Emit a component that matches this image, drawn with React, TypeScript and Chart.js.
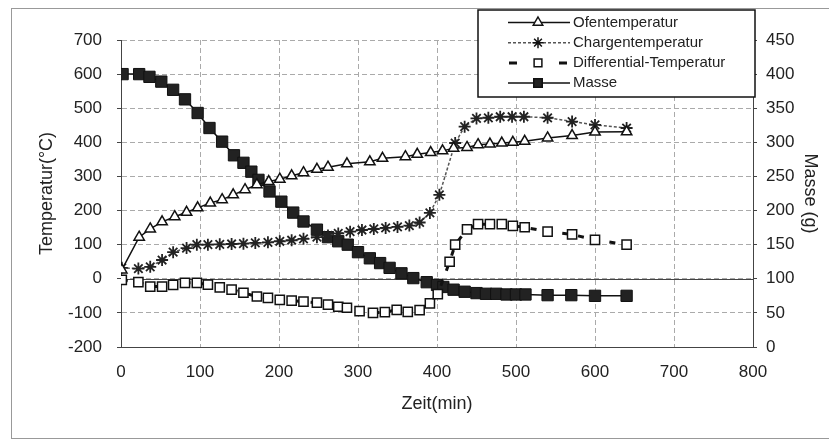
import React, { useEffect, useRef } from 'react';
import { Chart, registerables } from 'chart.js';

Chart.register(...registerables);

// ---- data ----
const seriesNames = ['Ofentemperatur', 'Chargentemperatur', 'Differential-Temperatur', 'Masse'];

const ofenTime = [1, 23, 37, 52, 68, 83, 97, 113, 128, 142, 157, 172, 187, 201, 216, 231, 248, 262, 286, 315, 331, 360, 375, 392, 407, 421, 438, 452, 467, 482, 496, 511, 540, 571, 600, 640];
const ofenTemp = [26, 122, 146, 167, 182, 195, 208, 222, 232, 246, 261, 276, 285, 292, 302, 311, 321, 327, 337, 343, 353, 358, 365, 370, 375, 383, 385, 393, 395, 398, 400, 403, 413, 420, 430, 431];

const chargeTime = [1, 22, 37, 52, 66, 83, 96, 110, 125, 140, 155, 170, 186, 201, 216, 231, 248, 262, 275, 290, 305, 320, 335, 350, 365, 378, 391, 403, 423, 435, 450, 465, 480, 495, 510, 540, 571, 600, 640];
const chargeTemp = [32, 30, 35, 55, 78, 90, 100, 100, 101, 102, 103, 105, 107, 110, 113, 117, 122, 127, 133, 138, 143, 146, 149, 152, 156, 165, 193, 246, 398, 446, 470, 472, 475, 475, 475, 472, 461, 451, 442];

const diffTime = [1, 22, 37, 52, 66, 81, 96, 110, 125, 140, 155, 172, 186, 201, 216, 231, 248, 262, 275, 286, 302, 319, 334, 349, 363, 378, 391, 401, 416, 423, 438, 452, 467, 482, 496, 511, 540, 571, 600, 640];
const diffTemp = [-3, -10, -23, -23, -18, -12, -12, -17, -25, -32, -41, -52, -56, -62, -64, -67, -70, -76, -82, -85, -95, -100, -98, -91, -97, -92, -72, -45, 50, 100, 145, 160, 160, 160, 155, 151, 138, 130, 114, 100];

const masseTime = [2, 23, 36, 51, 66, 81, 97, 112, 128, 143, 155, 165, 174, 188, 203, 218, 231, 248, 262, 275, 287, 300, 315, 328, 340, 355, 370, 387, 400, 408, 421, 435, 450, 462, 475, 488, 500, 512, 540, 570, 600, 640];
const masseVal = [400, 400, 396, 389, 377, 363, 343, 321, 301, 281, 270, 257, 245, 228, 213, 197, 184, 172, 161, 155, 150, 139, 130, 123, 116, 108, 101, 95, 91, 88, 84, 81, 79, 78, 78, 77, 77, 77, 76, 76, 75, 75];

const xTitle = 'Zeit(min)';
const yTitle = 'Temperatur(°C)';
const y1Title = 'Masse (g)';

const FONT = "'Liberation Sans', Arial, sans-serif";
const TEXT = '#222';

function pts(xs: number[], ys: number[]) {
  return xs.map((x, i) => ({ x, y: ys[i] }));
}

function drawMarker(ctx: CanvasRenderingContext2D, style: string, x: number, y: number, r: number, fill: string) {
  ctx.save();
  ctx.setLineDash([]);
  ctx.strokeStyle = '#111';
  ctx.lineWidth = 1.5;
  ctx.fillStyle = fill;
  ctx.beginPath();
  if (style === 'triangle') {
    ctx.moveTo(x, y - r);
    ctx.lineTo(x + r * Math.sin(Math.PI / 3), y + r * 0.5);
    ctx.lineTo(x - r * Math.sin(Math.PI / 3), y + r * 0.5);
    ctx.closePath();
    ctx.fill();
    ctx.stroke();
  } else if (style === 'star') {
    ctx.moveTo(x - r, y); ctx.lineTo(x + r, y);
    ctx.moveTo(x, y - r); ctx.lineTo(x, y + r);
    const d = r * Math.SQRT1_2;
    ctx.moveTo(x - d, y - d); ctx.lineTo(x + d, y + d);
    ctx.moveTo(x - d, y + d); ctx.lineTo(x + d, y - d);
    ctx.stroke();
  } else {
    const s = r * Math.SQRT1_2;
    ctx.rect(x - s, y - s, 2 * s, 2 * s);
    ctx.fill();
    ctx.stroke();
  }
  ctx.restore();
}

export default function App() {
  const ref = useRef<HTMLCanvasElement>(null);

  useEffect(() => {
    document.body.style.margin = '0';
    const decor = {
      id: 'decor',
      beforeDatasetsDraw(chart: any) {
        const { ctx, chartArea } = chart;
        const y0 = chart.scales.y.getPixelForValue(0);
        ctx.save();
        ctx.strokeStyle = '#444';
        ctx.lineWidth = 1;
        ctx.beginPath();
        ctx.moveTo(chartArea.left, Math.round(y0) + 0.5);
        ctx.lineTo(chartArea.right, Math.round(y0) + 0.5);
        ctx.stroke();
        ctx.restore();
      },
      afterDraw(chart: any) {
        const { ctx } = chart;
        ctx.save();
        // outer frame
        ctx.strokeStyle = '#999';
        ctx.lineWidth = 1;
        ctx.strokeRect(11.5, 8.5, 830, 430);
        // legend box
        const bx = 478, by = 10, bw = 277, bh = 87;
        ctx.fillStyle = '#fff';
        ctx.fillRect(bx, by, bw, bh);
        ctx.strokeStyle = '#111';
        ctx.lineWidth = 1.5;
        ctx.strokeRect(bx, by, bw, bh);
        const styles = ['triangle', 'star', 'rect', 'rect'];
        const fills = ['#fff', '#fff', '#fff', '#222'];
        chart.data.datasets.forEach((ds: any, i: number) => {
          const yy = 22.5 + i * 20.2;
          ctx.save();
          ctx.strokeStyle = ds.borderColor;
          ctx.lineWidth = ds.borderWidth;
          if (i === 2) {
            ctx.setLineDash([8, 42]);
            ctx.beginPath();
            ctx.moveTo(509, yy); ctx.lineTo(567, yy);
            ctx.stroke();
          } else {
            ctx.setLineDash(ds.borderDash || []);
            ctx.beginPath();
            ctx.moveTo(508, yy); ctx.lineTo(570, yy);
            ctx.stroke();
          }
          ctx.restore();
          drawMarker(ctx, styles[i], 538, yy, i === 3 ? 6 : 5.5, fills[i]);
          ctx.fillStyle = TEXT;
          ctx.font = `15px ${FONT}`;
          ctx.textBaseline = 'middle';
          ctx.textAlign = 'left';
          ctx.fillText(seriesNames[i], 573, yy);
        });
        ctx.restore();
      },
    };

    const tickFont = { family: FONT, size: 17 };
    const titleFont = { family: FONT, size: 18 };
    const chart = new Chart(ref.current!, {
      type: 'line',
      data: {
        datasets: [
          {
            label: seriesNames[0],
            data: pts(ofenTime, ofenTemp),
            yAxisID: 'y',
            borderColor: '#111',
            borderWidth: 1.5,
            pointStyle: 'triangle',
            pointRadius: 6,
            pointBorderWidth: 1.5,
            pointBorderColor: '#111',
            pointBackgroundColor: '#fff',
            tension: 0,
          },
          {
            label: seriesNames[1],
            data: pts(chargeTime, chargeTemp),
            yAxisID: 'y',
            borderColor: '#555',
            borderWidth: 1.5,
            borderDash: [3, 2],
            pointStyle: 'star',
            pointRadius: 6,
            pointBorderWidth: 1.8,
            pointBorderColor: '#222',
            pointBackgroundColor: '#fff',
            tension: 0,
          },
          {
            label: seriesNames[2],
            data: pts(diffTime, diffTemp),
            yAxisID: 'y',
            borderColor: '#111',
            borderWidth: 3,
            borderDash: [6, 10],
            pointStyle: 'rect',
            pointRadius: 6.5,
            pointBorderWidth: 1.5,
            pointBorderColor: '#111',
            pointBackgroundColor: '#fff',
            tension: 0,
          },
          {
            label: seriesNames[3],
            data: pts(masseTime, masseVal),
            yAxisID: 'y1',
            borderColor: '#111',
            borderWidth: 1.5,
            pointStyle: 'rect',
            pointRadius: 8,
            pointBorderWidth: 1,
            pointBorderColor: '#111',
            pointBackgroundColor: '#222',
            tension: 0,
          },
        ],
      },
      options: {
        animation: false,
        responsive: true,
        maintainAspectRatio: false,
        events: [],
        layout: { padding: { top: 40, left: 0, right: 0, bottom: 0 } },
        plugins: { legend: { display: false }, tooltip: { enabled: false } },
        scales: {
          x: {
            type: 'linear',
            position: 'bottom',
            min: 0,
            max: 800,
            ticks: { stepSize: 100, font: tickFont, color: TEXT, padding: 15, maxRotation: 0 },
            grid: { color: '#aaa', drawTicks: false },
            border: { color: '#444', width: 1, dash: [5, 3] },
            title: { display: true, text: xTitle, font: titleFont, color: TEXT, padding: { top: 0, bottom: 26 } },
            afterFit: (s: any) => { s.height = 94; },
          },
          y: {
            type: 'linear',
            position: 'left',
            min: -200,
            max: 700,
            ticks: { stepSize: 100, font: tickFont, color: TEXT, padding: 15 },
            grid: { color: '#aaa', tickLength: 4, tickColor: '#444' },
            border: { color: '#444', width: 1, dash: [5, 3] },
            title: { display: true, text: yTitle, font: titleFont, color: TEXT, padding: { top: 36, bottom: 0 } },
            afterFit: (s: any) => { s.width = 121; },
          },
          y1: {
            type: 'linear',
            position: 'right',
            min: 0,
            max: 450,
            ticks: { stepSize: 50, font: tickFont, color: TEXT, padding: 9 },
            grid: { drawOnChartArea: false, tickLength: 4, tickColor: '#444' },
            border: { color: '#444', width: 1 },
            title: { display: true, text: y1Title, font: titleFont, color: TEXT, padding: { top: 8, bottom: 0 } },
            afterFit: (s: any) => { s.width = 76; },
          },
        },
      },
      plugins: [decor],
    } as any);
    return () => chart.destroy();
  }, []);

  return (
    <div style={{ width: 829, height: 441, position: 'relative' }}>
      <canvas ref={ref} />
    </div>
  );
}
